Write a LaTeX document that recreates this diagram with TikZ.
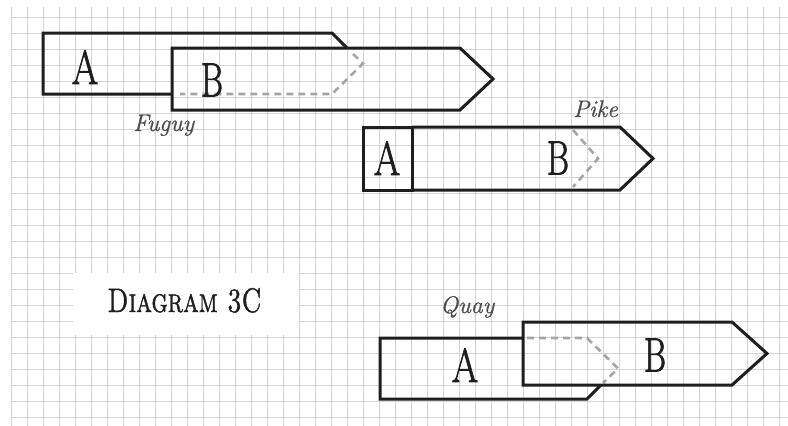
\documentclass[tikz,border=0pt]{standalone}
\usepackage{fontspec}
\newfontfamily\heavylm[FakeBold=1.6]{Latin Modern Roman}
\newfontfamily\scriptlm[FakeBold=0.8]{Latin Modern Roman}
\newfontfamily\capslm[FakeBold=1.4]{lmromancaps10-regular.otf}
\definecolor{gridc}{RGB}{212,212,212}
\definecolor{inkc}{RGB}{30,30,30}
\definecolor{hidc}{RGB}{165,165,165}
\begin{document}
\begin{tikzpicture}[x=1pt,y=-1pt,
  gridline/.style={draw=gridc, line width=1.1pt},
  outline/.style={draw=inkc, line width=3pt, line join=miter},
  hidden/.style={draw=hidc, line width=2.6pt, dash pattern=on 7pt off 5pt},
  letter/.style={font=\heavylm\fontsize{48}{48}\selectfont, inner sep=0pt, text=inkc},
  script/.style={font=\scriptlm\fontsize{24}{24}\selectfont\itshape, inner sep=0pt, text=black!70},
  caption/.style={font=\capslm\fontsize{34}{34}\selectfont, inner sep=0pt, text=inkc}]
\useasboundingbox (0,0) rectangle (788,426);
\fill[white] (0,0) rectangle (788,426);
% grid
\begin{scope}
  \clip (10,7) rectangle (788,426);
  \foreach \i in {0,...,48} \draw[gridline] ({11.5+16*\i},7) -- ({11.5+16*\i},426);
  \foreach \j in {1,...,26} \draw[gridline] (10,{1.3+16*\j}) -- (788,{1.3+16*\j});
\end{scope}
% Fugue
\draw[outline] (172,94) -- (43,94) -- (43,33) -- (332,33) -- (347,48);
\draw[hidden] (353,54) -- (363,63.5) -- (332,94) -- (180,94);
\draw[outline] (172,48) -- (460,48) -- (493,79) -- (460,110) -- (172,110) -- cycle;
\node[letter] (fa) at (85,67) {\scalebox{0.8}[1]{A}};
\node[letter] (fb) at (212,80) {\scalebox{0.7}[1]{B}};
\node[script, anchor=base west] (fl) at (133,131) {Fuguy};
% Pike
\draw[outline] (363,127) rectangle (412,190);
\draw[outline] (412,127) -- (620,127) -- (653,158.5) -- (620,190) -- (412,190);
\draw[hidden] (573,130) -- (598,158.5) -- (573,187);
\node[letter] (pa) at (387,158) {\scalebox{0.8}[1]{A}};
\node[letter] (pb) at (558,158) {\scalebox{0.7}[1]{B}};
\node[script, anchor=base west] (pl) at (573,117) {Pike};
% Quay
\draw[outline] (523,338) -- (380,338) -- (380,399) -- (587,399) -- (601,385);
\draw[hidden] (527,338) -- (587,338) -- (618,368.5) -- (603,383);
\draw[outline] (523,322) -- (732,322) -- (767,353.5) -- (732,385) -- (523,385) -- cycle;
\node[letter] (qa) at (465,365) {\scalebox{0.8}[1]{A}};
\node[letter] (qb) at (655,355) {\scalebox{0.7}[1]{B}};
\node[script, anchor=base west] (ql) at (440,313) {Quay};
% caption
\fill[white] (73,273) rectangle (298,335);
\node[caption, anchor=base] (cap) at (184.5,312) {\scalebox{0.75}[1]{Diagram 3C}};
\end{tikzpicture}
\end{document}
